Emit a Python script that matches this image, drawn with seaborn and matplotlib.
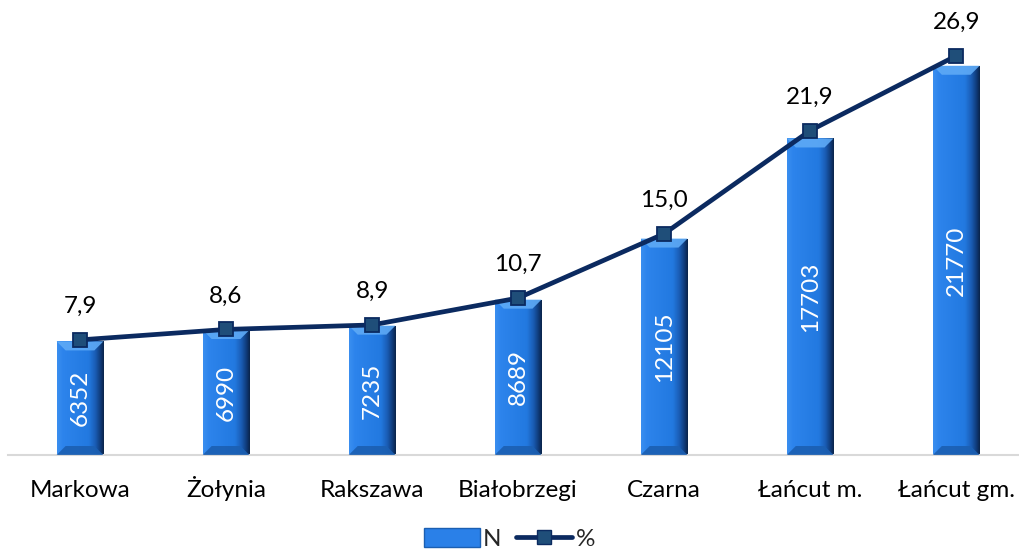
import numpy as np
import pandas as pd
import matplotlib
matplotlib.use("Agg")
import matplotlib.pyplot as plt
import seaborn as sns
from matplotlib.colors import LinearSegmentedColormap
from matplotlib.patches import Polygon, Patch
from matplotlib.lines import Line2D

categories = ["Markowa", "Żołynia", "Rakszawa", "Białobrzegi", "Czarna", "Łańcut m.", "Łańcut gm."]
n_values = [6352, 6990, 7235, 8689, 12105, 17703, 21770]
pct_values = [7.9, 8.6, 8.9, 10.7, 15.0, 21.9, 26.9]
pct_labels = ["7,9", "8,6", "8,9", "10,7", "15,0", "21,9", "26,9"]

sns.set_theme(style="white")
plt.rcParams["font.family"] = ["Lato", "DejaVu Sans"]

df = pd.DataFrame({"cat": categories, "N": n_values, "pct": pct_values})

W, H = 1019, 553
fig = plt.figure(figsize=(W / 100, H / 100), dpi=100)
ax = fig.add_axes([8 / W, (H - 455) / H, 1 - 8 / W, 447 / H])

BAR_MAIN = "#2a80e8"
sns.barplot(data=df, x="cat", y="N", ax=ax, color=BAR_MAIN, width=0.32,
            saturation=1, zorder=2)

xlim = (-0.493, 6.43)
ax.set_xlim(*xlim)
ax.set_ylim(0, 25000)

# gradient fill for bars
cmap = LinearSegmentedColormap.from_list(
    "bar", [(0.0, "#3b8ff0"), (0.12, "#2d84ec"), (0.68, "#2279e0"),
            (0.82, "#1a5cb4"), (0.93, "#0f3a78"), (1.0, "#0a2348")])
grad = np.linspace(0, 1, 256).reshape(1, -1)
px_x = (1019 - 8) / (xlim[1] - xlim[0])
px_y = 447 / 25000
for p in list(ax.patches):
    x0, y0 = p.get_x(), p.get_y()
    w, h = p.get_width(), p.get_height()
    p.set_facecolor("none")
    p.set_edgecolor("none")
    im = ax.imshow(grad, cmap=cmap, aspect="auto", extent=(x0, x0 + w, y0, y0 + h),
                   zorder=2, interpolation="bicubic")
    im.set_clip_path(p)
    bh = 9 / px_y
    bi = 9 / px_x
    top = Polygon([(x0, y0 + h), (x0 + w, y0 + h), (x0 + w - bi, y0 + h - bh),
                   (x0 + bi, y0 + h - bh)], closed=True, facecolor="#5eaaf6",
                  edgecolor="none", zorder=3, alpha=0.9)
    ax.add_patch(top)
    bot = Polygon([(x0, y0), (x0 + w, y0), (x0 + w - bi, y0 + bh),
                   (x0 + bi, y0 + bh)], closed=True, facecolor="#1b5fb2",
                  edgecolor="none", zorder=3, alpha=0.9)
    ax.add_patch(bot)
    ax.text(x0 + w / 2, y0 + h / 2, f"{int(round(h))}", rotation=90, color="white",
            ha="center", va="center", fontsize=17.5, zorder=5)

ax.set_xlabel("")
ax.set_ylabel("")
ax.set_yticks([])
for s in ["top", "right", "left"]:
    ax.spines[s].set_visible(False)
ax.spines["bottom"].set_color("#d9d9d9")
ax.spines["bottom"].set_linewidth(1.5)
ax.tick_params(axis="x", length=0, labelsize=17.5, pad=30, colors="#000000")
for lab in ax.get_xticklabels():
    lab.set_verticalalignment("baseline")

ax2 = ax.twinx()
sns.pointplot(data=df, x="cat", y="pct", ax=ax2, color="#0b2a60", markers="s",
              linestyles="-", errorbar=None, linewidth=3.4, markersize=9.5,
              markeredgecolor="#0b2a60", markeredgewidth=1.3, zorder=6)
for line in ax2.lines:
    line.set_markerfacecolor("#1f4e79")
    line.set_zorder(6)
ax2.set_xlim(*xlim)
ax2.set_ylim(0.2, 30.1)
ax2.set_axis_off()
for i, (v, lab) in enumerate(zip(pct_values, pct_labels)):
    ax2.annotate(lab, (i, v), xytext=(0, 24), textcoords="offset points",
                 ha="center", va="center", fontsize=17.5, color="#000000")

handles = [Patch(facecolor=BAR_MAIN, edgecolor="#1b5fb2", label="N"),
           Line2D([0], [0], color="#0b2a60", lw=3.4, marker="s", markersize=9.5,
                  markerfacecolor="#1f4e79", markeredgecolor="#0b2a60", label="%")]
fig.legend(handles=handles, loc="center", bbox_to_anchor=(0.5, 14 / H), ncol=2,
           frameon=False, fontsize=17.5, handlelength=2.3, handleheight=0.8,
           columnspacing=0.6, handletextpad=0.15, borderpad=0.1)

fig.savefig("out.png", dpi=100)
